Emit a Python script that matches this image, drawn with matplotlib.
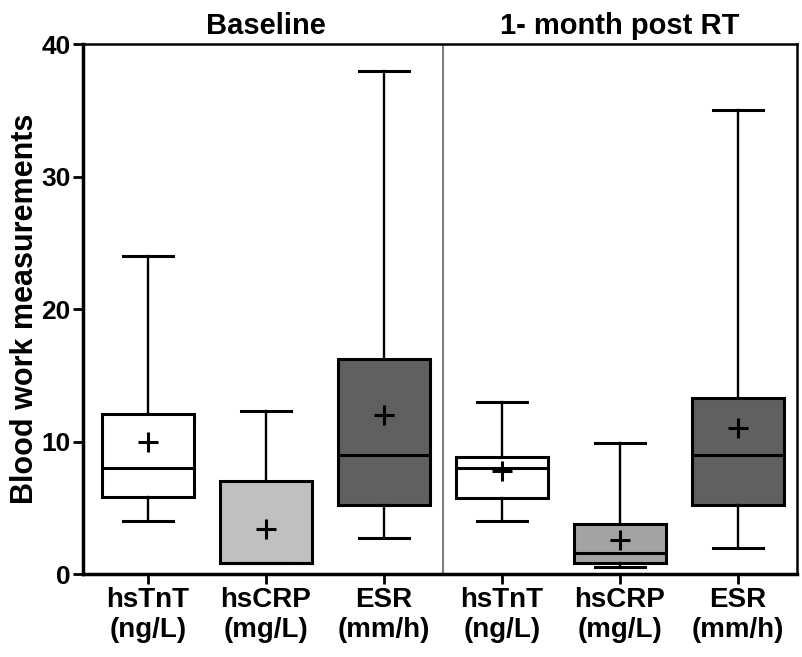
import matplotlib.pyplot as plt
import numpy as np

labels = ["hsTnT\n(ng/L)", "hsCRP\n(mg/L)", "ESR\n(mm/h)", "hsTnT\n(ng/L)", "hsCRP\n(mg/L)", "ESR\n(mm/h)"]
whislo = [4.0, 0.8, 2.7, 4.0, 0.5, 2.0]
q1 = [5.8, 0.8, 5.2, 5.7, 0.8, 5.2]
med = [8.0, 0.8, 9.0, 8.0, 1.6, 9.0]
q3 = [12.1, 7.0, 16.2, 8.8, 3.8, 13.3]
whishi = [24.0, 12.3, 38.0, 13.0, 9.9, 35.0]
means = [10.0, 3.4, 12.0, 7.8, 2.6, 11.0]
fills = ["white", "#c0c0c0", "#606060", "white", "#a3a3a3", "#606060"]
groups = ["Baseline", "1- month post RT"]

plt.rcParams['font.family'] = ['Liberation Sans', 'DejaVu Sans']
plt.rcParams['font.weight'] = 'bold'

fig = plt.figure(figsize=(8.02, 6.57), dpi=100)
ax = fig.add_axes([0.1035, 0.1263, 0.8903, 0.8067])

stats = []
for i in range(len(labels)):
    stats.append(dict(whislo=whislo[i], q1=q1[i], med=med[i], q3=q3[i],
                      whishi=whishi[i], mean=means[i], fliers=[]))

x = np.arange(len(labels))
bp = ax.bxp(stats, positions=x, widths=0.78, patch_artist=True, showmeans=True,
            boxprops=dict(linewidth=2.2, edgecolor="black"),
            medianprops=dict(color="black", linewidth=2.2),
            whiskerprops=dict(color="black", linewidth=1.7),
            capprops=dict(color="black", linewidth=2.2),
            meanprops=dict(marker="+", markersize=14, markeredgewidth=2.2,
                           markeredgecolor="black"),
            capwidths=0.42)
for patch, c in zip(bp["boxes"], fills):
    patch.set_facecolor(c)

ax.axvline(2.5, color="#808080", linewidth=1.5)

ax.set_xlim(-0.55, 5.5)
ax.set_ylim(0, 40)
ax.set_yticks([0, 10, 20, 30, 40])
ax.set_xticks(x, labels=labels)
ax.tick_params(axis="both", width=2, length=7, direction="out")
ax.tick_params(axis="y", labelsize=19, pad=2)
ax.tick_params(axis="x", labelsize=20, pad=2)
for s in ["left", "bottom"]:
    ax.spines[s].set_linewidth(2.5)
for s in ["top", "right"]:
    ax.spines[s].set_linewidth(1.8)

ax.set_ylabel("Blood work measurements", fontsize=22, fontweight="bold", labelpad=1)
ax.text(1, 40.75, groups[0], ha="center", va="baseline", fontsize=21, fontweight="bold")
ax.text(4, 40.75, groups[1], ha="center", va="baseline", fontsize=21, fontweight="bold")

fig.savefig("out.png", dpi=100)
